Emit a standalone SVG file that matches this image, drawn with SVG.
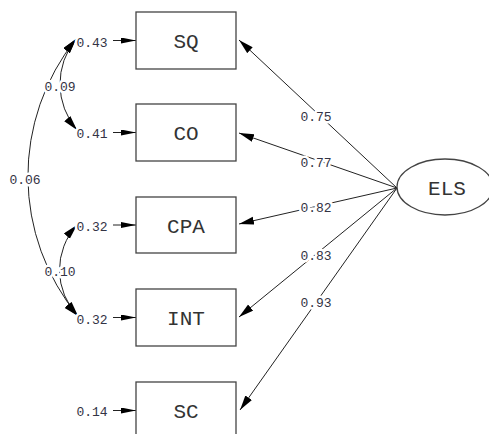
<svg xmlns="http://www.w3.org/2000/svg" width="489" height="434" viewBox="0 0 489 434">
<style>
.box{fill:#fff;stroke:#444;stroke-width:1.3}
.ln{fill:none;stroke:#222;stroke-width:1}
.nl{font-family:"Liberation Mono","Courier New",monospace;font-size:21px;fill:#333;text-anchor:middle}
.num{font-family:"Liberation Mono","Courier New",monospace;font-size:13px;fill:#334;text-anchor:middle;paint-order:stroke;stroke:#fff;stroke-width:5px;stroke-linejoin:round}
</style>
<defs>
<marker id="ah" markerUnits="userSpaceOnUse" markerWidth="16" markerHeight="10" refX="15" refY="4" orient="auto-start-reverse">
<path d="M0,0 L15,4 L0,8 z" fill="#000"/>
</marker>
<marker id="eh" markerUnits="userSpaceOnUse" markerWidth="16" markerHeight="8" refX="15" refY="3" orient="auto">
<path d="M0,0 L15,3 L0,6 z" fill="#000"/>
</marker>
</defs>
<rect width="489" height="434" fill="#fff"/>
<g id="connectors">
<path class="ln" d="M397,188 L239,40" marker-end="url(#ah)"/>
<path class="ln" d="M397,188 L239,133" marker-end="url(#ah)"/>
<path class="ln" d="M397,188 L239,224" marker-end="url(#ah)"/>
<path class="ln" d="M397,188 L239,317" marker-end="url(#ah)"/>
<path class="ln" d="M397,188 L240,410" marker-end="url(#ah)"/>
<path class="ln" d="M113,40.5 L136,40.5" marker-end="url(#eh)"/>
<path class="ln" d="M113,132.5 L136,132.5" marker-end="url(#eh)"/>
<path class="ln" d="M113,225 L136,225" marker-end="url(#eh)"/>
<path class="ln" d="M113,317.5 L136,317.5" marker-end="url(#eh)"/>
<path class="ln" d="M113,410.5 L136,410.5" marker-end="url(#eh)"/>
<path class="ln" d="M76,39 A71,71 0 0 0 77,130" marker-start="url(#ah)" marker-end="url(#ah)"/>
<path class="ln" d="M76,39 A220,220 0 0 0 78,316" marker-start="url(#ah)" marker-end="url(#ah)"/>
<path class="ln" d="M77,225 A66.5,66.5 0 0 0 78,316" marker-start="url(#ah)" marker-end="url(#ah)"/>
<text class="num" x="316" y="121">0.75</text>
<text class="num" x="316" y="167">0.77</text>
<text class="num" x="316" y="212">0.82</text>
<text class="num" x="316" y="260">0.83</text>
<text class="num" x="316" y="307">0.93</text>
<text class="num" x="60" y="91">0.09</text>
<text class="num" x="25" y="184">0.06</text>
<text class="num" x="60" y="276">0.10</text>
<text class="num" x="92" y="46.5">0.43</text>
<text class="num" x="92" y="138">0.41</text>
<text class="num" x="92" y="231">0.32</text>
<text class="num" x="92" y="323.5">0.32</text>
<text class="num" x="92" y="416">0.14</text>
</g>
<g id="SQ"><rect class="box" x="136" y="12" width="100" height="57"/><text class="nl" x="186" y="48">SQ</text></g>
<g id="CO"><rect class="box" x="136" y="104" width="100" height="57"/><text class="nl" x="186" y="140">CO</text></g>
<g id="CPA"><rect class="box" x="136" y="197" width="100" height="56"/><text class="nl" x="186" y="233">CPA</text></g>
<g id="INT"><rect class="box" x="136" y="289" width="100" height="57"/><text class="nl" x="186" y="325">INT</text></g>
<g id="SC"><rect class="box" x="136" y="382" width="100" height="57"/><text class="nl" x="186" y="418">SC</text></g>
<g id="ELS"><ellipse class="box" cx="445" cy="187" rx="48" ry="28"/><text class="nl" x="447" y="195">ELS</text></g>
</svg>
